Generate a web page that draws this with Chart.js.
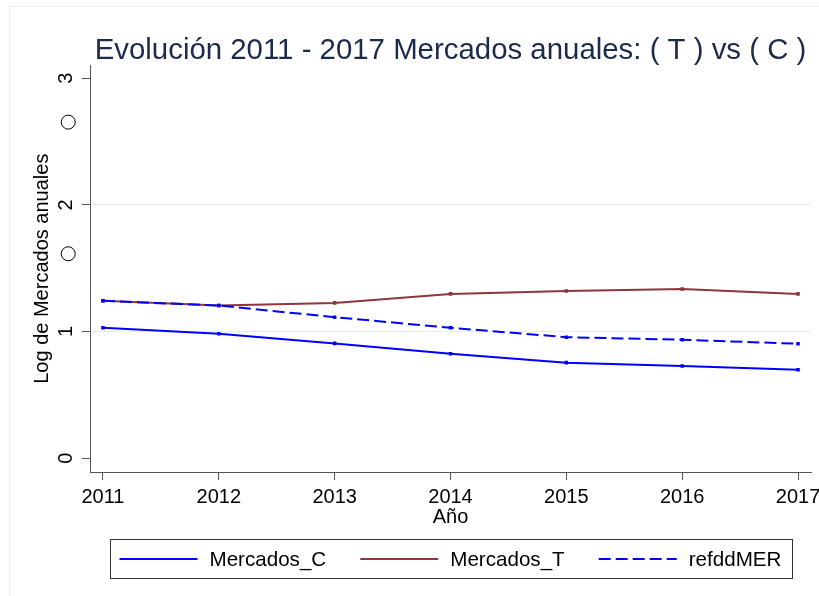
<!DOCTYPE html>
<html><head><meta charset="utf-8">
<script src="https://cdn.jsdelivr.net/npm/chart.js@4/dist/chart.umd.min.js"></script>
<style>html,body{margin:0;padding:0;background:#fff}</style>
</head><body>
<canvas id="c" width="819" height="596"></canvas>
<script>
const years = [2011, 2012, 2013, 2014, 2015, 2016, 2017];
const mercadosC = [1.029, 0.982, 0.906, 0.824, 0.754, 0.727, 0.698];
const mercadosT = [1.242, 1.205, 1.226, 1.297, 1.320, 1.336, 1.297];
const refddMER = [1.242, 1.205, 1.113, 1.029, 0.955, 0.935, 0.903];
const circleX = [2010.70, 2010.70];
const circleY = [2.654, 1.614];
const yTicks = [0, 1, 2, 3];
const xTicks = [2011, 2012, 2013, 2014, 2015, 2016, 2017];
const seriesNames = ['Mercados_C', 'Mercados_T', 'refddMER'];
const titleText = 'Evolución 2011 - 2017 Mercados anuales: ( T ) vs ( C )';
const yTitle = 'Log de Mercados anuales';
const xTitle = 'Año';

const FONT = "'Liberation Sans', Arial, sans-serif";
Chart.defaults.font.family = FONT;
Chart.defaults.color = '#000';

const pts = (vals) => years.map((y, i) => ({x: y, y: vals[i]}));

const bgPlugin = {
  id: 'bg',
  beforeDraw(chart) {
    const ctx = chart.ctx;
    ctx.save();
    ctx.fillStyle = '#fff';
    ctx.fillRect(0, 0, chart.width, chart.height);
    ctx.strokeStyle = '#e8eef0';
    ctx.lineWidth = 1;
    ctx.beginPath();
    ctx.moveTo(9.5, chart.height);
    ctx.lineTo(9.5, 6.5);
    ctx.lineTo(chart.width, 6.5);
    ctx.stroke();
    ctx.restore();
  }
};

// Chart.js skips points outside the chart area; draw the circle markers' own point elements unclipped.
const outsidePointsPlugin = {
  id: 'outsidePoints',
  afterDatasetsDraw(chart) {
    const ctx = chart.ctx;
    chart.data.datasets.forEach((d, i) => {
      if (d.label !== 'circles') return;
      const meta = chart.getDatasetMeta(i);
      meta.data.forEach(p => p.draw(ctx));
    });
  }
};

const legendPlugin = {
  id: 'boxLegend',
  afterDraw(chart) {
    const ctx = chart.ctx;
    const items = chart.data.datasets.filter(d => seriesNames.includes(d.label));
    ctx.save();
    ctx.font = '20.6px ' + FONT;
    const sample = 78, gap = 12, spacing = 34;
    const widths = items.map(d => ctx.measureText(d.label).width);
    let total = 0;
    widths.forEach((w, i) => { total += sample + gap + w + (i < widths.length - 1 ? spacing : 0); });
    const boxW = total + 20;
    const ca = chart.chartArea;
    const cx = (ca.left + ca.right) / 2;
    const boxL = Math.round(cx - boxW / 2) + 0.5;
    const boxT = chart.height - 57 + 0.5;
    const boxH = 39;
    ctx.strokeStyle = '#333';
    ctx.lineWidth = 1;
    ctx.strokeRect(boxL, boxT, Math.round(boxW), boxH);
    let x = boxL + 9;
    const yc = boxT + boxH / 2;
    items.forEach((d, i) => {
      ctx.beginPath();
      ctx.strokeStyle = d.borderColor;
      ctx.lineWidth = d.borderWidth;
      ctx.setLineDash(d.borderDash || []);
      ctx.moveTo(x, yc);
      ctx.lineTo(x + sample, yc);
      ctx.stroke();
      ctx.setLineDash([]);
      ctx.fillStyle = '#000';
      ctx.textBaseline = 'middle';
      ctx.textAlign = 'left';
      ctx.fillText(d.label, x + sample + gap, yc + 1);
      x += sample + gap + widths[i] + spacing;
    });
    ctx.restore();
  }
};

const lineDs = (label, data, color, dash, order) => ({
  label, data: pts(data), borderColor: color, backgroundColor: color,
  borderWidth: 2, borderDash: dash, tension: 0, pointStyle: 'rect',
  pointRadius: 2.5, pointBorderWidth: 0, pointBackgroundColor: color, order
});

new Chart(document.getElementById('c'), {
  type: 'line',
  data: {
    datasets: [
      lineDs(seriesNames[0], mercadosC, '#0000ff', [], 1),
      lineDs(seriesNames[1], mercadosT, '#90353b', [], 2),
      lineDs(seriesNames[2], refddMER, '#0000ff', [12, 5], 0),
      {
        label: 'circles', data: circleX.map((x, i) => ({x, y: circleY[i]})),
        showLine: false, pointStyle: 'circle', pointRadius: 7, pointBorderWidth: 1,
        pointBorderColor: '#000', pointBackgroundColor: 'rgba(0,0,0,0)', clip: false, order: 3
      }
    ]
  },
  options: {
    responsive: false,
    animation: false,
    devicePixelRatio: 1,
    layout: { padding: { left: 0, right: 7, top: 0, bottom: 58 } },
    plugins: {
      legend: { display: false },
      tooltip: { enabled: false },
      title: {
        display: true, text: titleText, fullSize: false, color: '#1c2a4d',
        font: { size: 29.4, weight: 'normal', lineHeight: 1 },
        padding: { top: 36, bottom: 0 }
      }
    },
    scales: {
      x: {
        type: 'linear', min: 2010.888, max: 2017.112,
        afterBuildTicks: s => { s.ticks = xTicks.map(v => ({value: v})); },
        afterFit: s => { s.height = 66; s.paddingLeft = 0; s.paddingRight = 0; },
        ticks: { callback: v => String(v), font: { size: 20 }, color: '#000', padding: 5, maxRotation: 0, minRotation: 0, autoSkip: false },
        grid: { drawOnChartArea: false, drawTicks: true, tickLength: 8, tickColor: '#555', tickWidth: 1 },
        border: { display: true, color: '#555', width: 1 },
        title: { display: true, text: xTitle, font: { size: 20, lineHeight: 1.2 }, color: '#000', padding: { top: 0, bottom: 9 } }
      },
      y: {
        type: 'linear', min: -0.11, max: 3.102,
        afterBuildTicks: s => { s.ticks = yTicks.map(v => ({value: v})); },
        afterFit: s => { s.width = 90; s.paddingTop = 0; s.paddingBottom = 0; },
        ticks: { callback: v => String(v), font: { size: 20 }, color: '#000', padding: 10, minRotation: 90, maxRotation: 90, crossAlign: 'center' },
        grid: {
          color: c => (c.tick && (c.tick.value === 1 || c.tick.value === 2)) ? '#e6eef0' : 'rgba(0,0,0,0)',
          drawTicks: true, tickLength: 8, tickColor: '#555', tickWidth: 1, lineWidth: 1
        },
        border: { display: true, color: '#555', width: 1 },
        title: { display: true, text: yTitle, font: { size: 20, lineHeight: 1.2 }, color: '#000', padding: { top: 30, bottom: 0 } }
      }
    }
  },
  plugins: [bgPlugin, outsidePointsPlugin, legendPlugin]
});
</script>
</body></html>
